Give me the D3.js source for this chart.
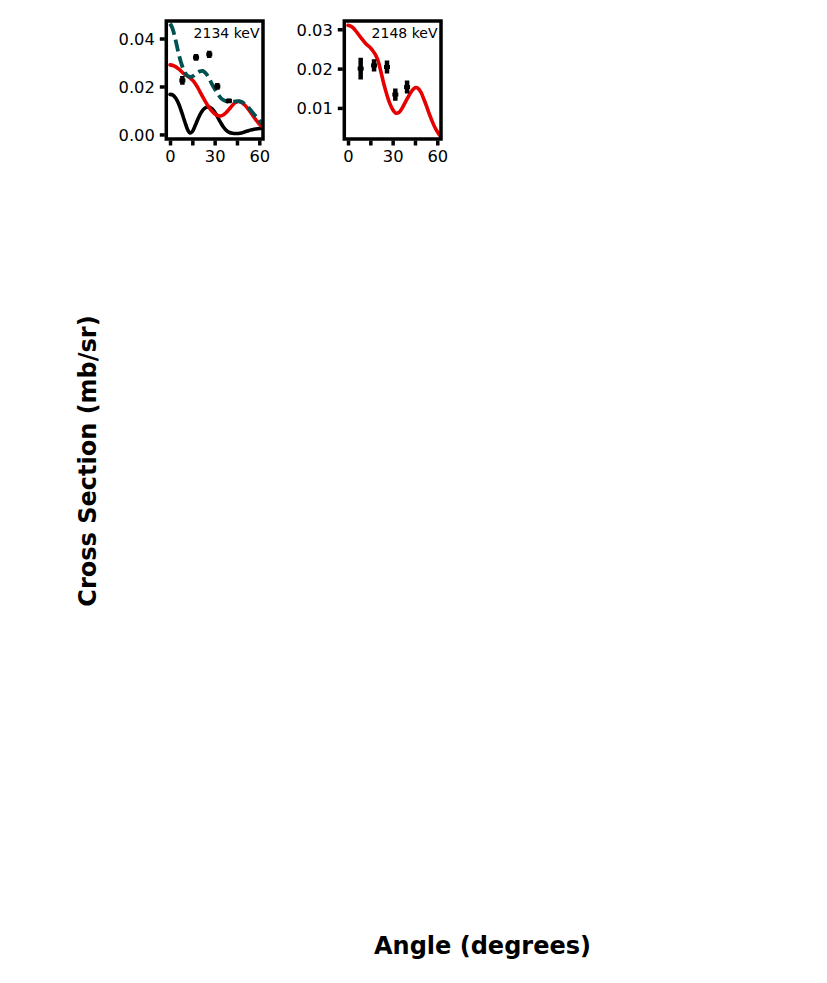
<!DOCTYPE html>
<html>
<head>
<meta charset="utf-8">
<script src="https://cdn.jsdelivr.net/npm/d3@7"></script>
<style>
  html, body { margin: 0; padding: 0; background: #fff; }
  svg { display: block; }
  text { font-family: "DejaVu Sans", sans-serif; fill: #000; }
</style>
</head>
<body>
<svg id="chart" width="827" height="983"></svg>
<script>
// ---------------- DATA ----------------
const xTicks = [0, 15, 30, 45, 60];
const xTickLabels = ["0", "", "30", "", "60"];

// Panel 1: 2134 keV
const p1Label = "2134 keV";
const p1YTicks = [0.00, 0.02, 0.04];
const p1YTickLabels = ["0.00", "0.02", "0.04"];
const p1ExpAngle = [8.3, 17.5, 26.4, 31.8, 39.6];
const p1ExpValue = [0.0225, 0.0321, 0.0334, 0.0200, 0.0140];
const p1ExpError = [0.0014, 0.0010, 0.0011, 0.0010, 0.0006];

const p1BlackAngle = [0, 2, 4, 6, 8, 10, 12, 13.5, 15, 17, 19, 21, 23, 25.5, 28, 30, 32, 34, 36, 38, 40, 42, 44, 46, 48, 50, 52, 54, 56, 58, 60, 62];
const p1BlackValue = [0.0167, 0.0164, 0.0150, 0.0125, 0.0090, 0.0052, 0.0018, 0.0006, 0.0012, 0.0038, 0.0068, 0.0092, 0.0108, 0.0115, 0.0108, 0.0093, 0.0072, 0.0050, 0.0030, 0.0016, 0.0008, 0.0005, 0.0004, 0.0004, 0.0006, 0.0010, 0.0014, 0.0018, 0.0021, 0.0023, 0.0025, 0.0025];

const p1RedAngle = [0, 3, 6, 9, 12, 14, 16, 18, 20, 22, 24, 26, 28, 30, 32, 34, 36, 38, 40, 42, 44, 46, 48, 50, 52, 54, 56, 58, 60, 62];
const p1RedValue = [0.0290, 0.0285, 0.0272, 0.0255, 0.0242, 0.0233, 0.0220, 0.0202, 0.0180, 0.0157, 0.0135, 0.0115, 0.0098, 0.0086, 0.0079, 0.0077, 0.0082, 0.0093, 0.0107, 0.0122, 0.0133, 0.0138, 0.0134, 0.0124, 0.0110, 0.0094, 0.0076, 0.0059, 0.0044, 0.0033];

const p1DashAngle = [0, 1.5, 3.5, 5.5, 7.5, 10, 12, 14, 16, 18, 20, 22, 24, 26, 28, 30, 32, 34, 36, 38, 40, 42, 44, 46, 48, 50, 52, 54, 56, 58, 60, 62];
const p1DashValue = [0.0462, 0.0445, 0.0400, 0.0345, 0.0298, 0.0258, 0.0243, 0.0240, 0.0245, 0.0255, 0.0263, 0.0265, 0.0255, 0.0237, 0.0212, 0.0190, 0.0170, 0.0153, 0.0143, 0.0138, 0.0136, 0.0136, 0.0138, 0.0139, 0.0136, 0.0128, 0.0117, 0.0103, 0.0088, 0.0073, 0.0058, 0.0045];

// Panel 2: 2148 keV
const p2Label = "2148 keV";
const p2YTicks = [0.01, 0.02, 0.03];
const p2YTickLabels = ["0.01", "0.02", "0.03"];
const p2ExpAngle = [8.5, 17.5, 26.2, 31.8, 39.7];
const p2ExpValue = [0.0200, 0.0208, 0.0204, 0.0134, 0.0153];
const p2ExpError = [0.0025, 0.0013, 0.0014, 0.0013, 0.0014];

const p2RedAngle = [0, 3, 6, 9, 12, 15, 18, 20, 22, 24, 26, 28, 30, 32, 34, 36, 38, 40, 42, 44, 45.5, 47, 49, 51, 53, 55, 57, 59, 61, 62];
const p2RedValue = [0.0310, 0.0305, 0.0292, 0.0277, 0.0263, 0.0253, 0.0238, 0.0222, 0.0194, 0.0162, 0.0135, 0.0112, 0.0096, 0.0087, 0.0088, 0.0097, 0.0111, 0.0125, 0.0138, 0.0148, 0.0152, 0.0150, 0.0140, 0.0122, 0.0102, 0.0081, 0.0062, 0.0046, 0.0034, 0.0029];

const xAxisTitle = "Angle (degrees)";
const yAxisTitle = "Cross Section (mb/sr)";

const colRed = "#e60000";
const colTeal = "#005252";
const colBlack = "#000000";

// ---------------- DRAW ----------------
const svg = d3.select("#chart");

function zip(a, b) { return a.map((v, i) => [v, b[i]]); }

function drawPanel(opts) {
  const { left, right, top, bottom, yDomain, yTicks, yTickLabels, label, series, exp, id } = opts;
  const x = d3.scaleLinear().domain([-2.5, 62.5]).range([left, right]);
  const y = d3.scaleLinear().domain(yDomain).range([bottom, top]);
  const g = svg.append("g");

  g.append("clipPath").attr("id", id).append("rect")
    .attr("x", left).attr("y", top).attr("width", right - left).attr("height", bottom - top);

  const plot = g.append("g").attr("clip-path", `url(#${id})`);
  const line = d3.line().x(d => x(d[0])).y(d => y(d[1])).curve(d3.curveCatmullRom.alpha(0.5));

  series.forEach(s => {
    plot.append("path")
      .attr("d", line(zip(s.a, s.v)))
      .attr("fill", "none")
      .attr("stroke", s.color)
      .attr("stroke-width", s.dash ? 3.8 : 3.6)
      .attr("stroke-linecap", s.dash ? "butt" : "round")
      .attr("stroke-dasharray", s.dash || null);
  });

  // experimental points with error bars
  exp.a.forEach((a, i) => {
    const v = exp.v[i], e = exp.e[i];
    plot.append("line")
      .attr("x1", x(a)).attr("x2", x(a))
      .attr("y1", y(v - e) + 1).attr("y2", y(v + e) - 1)
      .attr("stroke", "#000").attr("stroke-width", 4.5);
    plot.append("rect")
      .attr("x", x(a) - 3).attr("y", y(v) - 2)
      .attr("width", 6).attr("height", 4).attr("fill", "#000");
  });

  // frame
  g.append("rect")
    .attr("x", left).attr("y", top).attr("width", right - left).attr("height", bottom - top)
    .attr("fill", "none").attr("stroke", "#000").attr("stroke-width", 3.5);

  // x axis ticks
  const xAxis = d3.axisBottom(x).tickValues(xTicks)
    .tickFormat((d, i) => xTickLabels[i]).tickSize(5).tickPadding(5);
  const xg = g.append("g").attr("transform", `translate(0,${bottom + 1.5})`).call(xAxis);
  xg.select(".domain").remove();
  xg.selectAll(".tick line").attr("stroke", "#000").attr("stroke-width", 3.5);
  xg.selectAll(".tick text").attr("font-size", 16.3).attr("font-family", "DejaVu Sans").attr("fill", "#000");

  // y axis ticks
  const yAxis = d3.axisLeft(y).tickValues(yTicks)
    .tickFormat((d, i) => yTickLabels[i]).tickSize(5).tickPadding(5);
  const yg = g.append("g").attr("transform", `translate(${left - 1.5},0)`).call(yAxis);
  yg.select(".domain").remove();
  yg.selectAll(".tick line").attr("stroke", "#000").attr("stroke-width", 3.5);
  yg.selectAll(".tick text").attr("font-size", 16.3).attr("font-family", "DejaVu Sans").attr("fill", "#000")
    .attr("dy", "0.36em");

  // annotation
  g.append("text")
    .attr("x", right - 3.5).attr("y", top + 17)
    .attr("text-anchor", "end")
    .attr("font-size", 14)
    .text(label);
}

drawPanel({
  id: "clip1", left: 166.3, right: 263, top: 21, bottom: 139,
  yDomain: [-0.0019, 0.0473], yTicks: p1YTicks, yTickLabels: p1YTickLabels, label: p1Label,
  series: [
    { a: p1BlackAngle, v: p1BlackValue, color: colBlack },
    { a: p1RedAngle, v: p1RedValue, color: colRed },
    { a: p1DashAngle, v: p1DashValue, color: colTeal, dash: "12,5" }
  ],
  exp: { a: p1ExpAngle, v: p1ExpValue, e: p1ExpError }
});

drawPanel({
  id: "clip2", left: 344.3, right: 441, top: 21, bottom: 139,
  yDomain: [0.0021, 0.0321], yTicks: p2YTicks, yTickLabels: p2YTickLabels, label: p2Label,
  series: [
    { a: p2RedAngle, v: p2RedValue, color: colRed }
  ],
  exp: { a: p2ExpAngle, v: p2ExpValue, e: p2ExpError }
});

// axis titles
svg.append("text")
  .attr("x", 482.5).attr("y", 954)
  .attr("text-anchor", "middle")
  .attr("font-size", 24).attr("font-weight", "bold")
  .text(xAxisTitle);

svg.append("text")
  .attr("transform", "translate(96,461) rotate(-90)")
  .attr("text-anchor", "middle")
  .attr("font-size", 24).attr("font-weight", "bold")
  .text(yAxisTitle);
</script>
</body>
</html>
